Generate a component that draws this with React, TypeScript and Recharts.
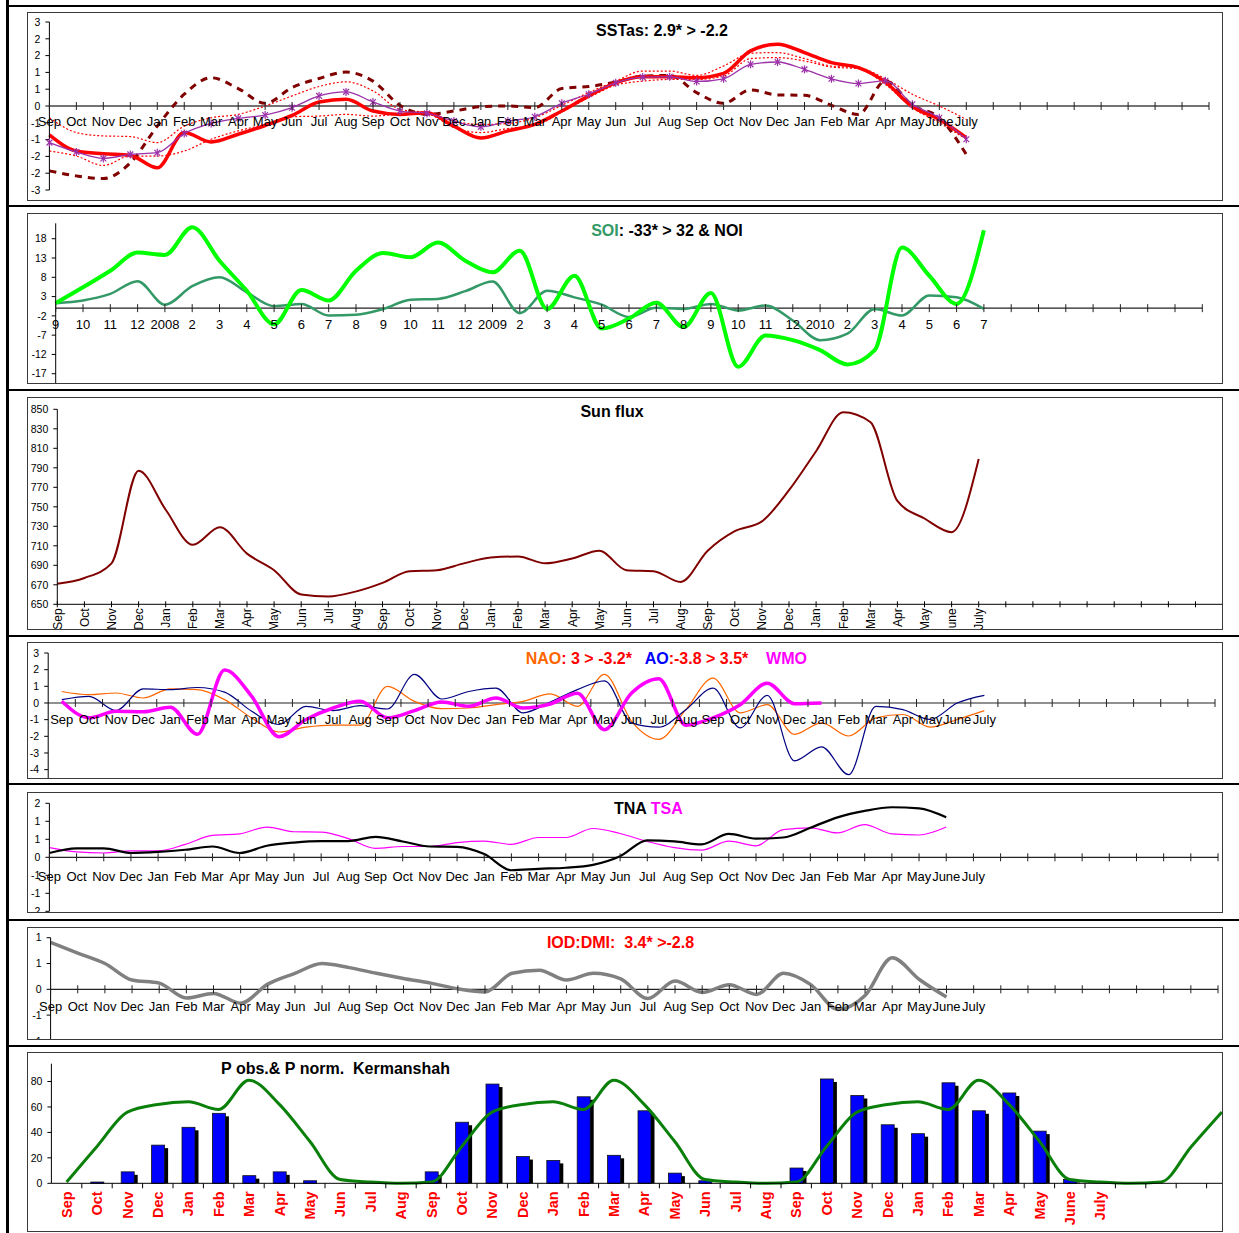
import React from 'react';
import { ComposedChart, LineChart, Line, Bar, XAxis, YAxis, ReferenceLine } from 'recharts';

const FONT = '"Liberation Sans", Arial, Helvetica, sans-serif';
const BOX_X = 27;
const BOX_W = 1196;
const YW = 20;

// ---- category labels ----
const months = ['Sep', 'Oct', 'Nov', 'Dec', 'Jan', 'Feb', 'Mar', 'Apr', 'May', 'Jun', 'Jul', 'Aug',
  'Sep', 'Oct', 'Nov', 'Dec', 'Jan', 'Feb', 'Mar', 'Apr', 'May', 'Jun', 'Jul', 'Aug',
  'Sep', 'Oct', 'Nov', 'Dec', 'Jan', 'Feb', 'Mar', 'Apr', 'May', 'June', 'July'];
const soiLabels = ['9', '10', '11', '12', '2008', '2', '3', '4', '5', '6', '7', '8',
  '9', '10', '11', '12', '2009', '2', '3', '4', '5', '6', '7', '8',
  '9', '10', '11', '12', '2010', '2', '3', '4', '5', '6', '7'];

// ---- SSTas ----
const sstRed = [-0.86, -1.34, -1.42, -1.47, -1.84, -0.79, -1.07, -0.84, -0.58, -0.28, 0.12, 0.2, -0.15, -0.25, -0.2, -0.6, -0.95, -0.74, -0.55, -0.15, 0.3, 0.69, 0.87, 0.87, 0.84, 0.97, 1.64, 1.84, 1.59, 1.29, 1.14, 0.71, -0.02, -0.4, -0.94];
const sstPurple = [-1.09, -1.37, -1.56, -1.44, -1.39, -0.82, -0.52, -0.37, -0.27, -0.05, 0.3, 0.42, 0.12, -0.15, -0.22, -0.45, -0.62, -0.45, -0.32, 0.08, 0.35, 0.69, 0.86, 0.87, 0.73, 0.81, 1.24, 1.31, 1.09, 0.81, 0.67, 0.75, 0.05, -0.35, -0.99];
const sstDash = [-1.93, -2.08, -2.16, -1.69, -0.6, 0.35, 0.84, 0.52, 0.08, 0.55, 0.82, 1.01, 0.74, 0.02, -0.25, -0.15, -0.02, 0, -0.05, 0.52, 0.58, 0.71, 0.89, 0.91, 0.4, 0.08, 0.48, 0.33, 0.32, 0.02, -0.25, 0.75, 0.02, -0.35, -1.44];
const sstDotHi = [-0.35, -0.79, -0.89, -0.91, -1.09, -0.6, -0.35, -0.25, 0, 0.3, 0.58, 0.72, 0.45, -0.1, -0.2, -0.45, -0.55, -0.52, -0.35, 0.02, 0.4, 0.74, 1.04, 1.04, 0.91, 1.19, 1.57, 1.59, 1.41, 1.19, 1.14, 0.81, 0.35, 0, -0.4];
const sstDotLo = [-1.34, -1.49, -1.77, -1.49, -1.49, -1.34, -0.99, -0.74, -0.55, -0.32, -0.3, -0.25, -0.3, -0.25, -0.25, -0.64, -0.79, -0.67, -0.58, -0.18, 0.25, 0.62, 0.74, 0.79, 0.79, 0.89, 1.41, 1.44, 1.34, 1.16, 1.11, 0.64, -0.05, -0.5, -0.99];
const sstTicks = [-2.5, -2, -1.5, -1, -0.5, 0, 0.5, 1, 1.5, 2, 2.5];

// ---- SOI & NOI ----
const noi = [1.3, 5.4, 9.7, 14.4, 13.8, 21.0, 12.3, 4.5, -4.2, 4.7, 2.0, 9.7, 14.3, 13.2, 17.0, 12.3, 9.3, 14.9, -0.2, 8.4, -5.3, -2.7, 1.4, -4.9, 3.9, -15.2, -7.1, -8.3, -10.9, -14.6, -10.9, 15.7, 8.4, 1.1, 20.2];
const soi = [1.3, 2.0, 3.7, 7.0, 0.9, 5.7, 8.0, 4.1, 0.5, 1.1, -1.9, -1.7, -0.2, 2.2, 2.4, 4.4, 6.9, -1.3, 4.5, 2.8, 0.9, -2.3, 0.1, -0.2, 1.1, -0.6, 0.7, -3.2, -8.3, -6.6, -0.2, -1.9, 3.3, 2.8, -0.2];
const soiTicks = [-17, -12, -7, -2, 3, 8, 13, 18];

// ---- Sun flux ----
const sunFlux = [671, 677, 692, 787, 747, 711, 729, 702, 685, 660, 658, 663, 672, 684, 685, 692, 698, 699, 692, 697, 705, 685, 684, 673, 705, 725, 735, 767, 807, 847, 837, 756, 738, 724, 799];
const sunTicks = [650, 670, 690, 710, 730, 750, 770, 790, 810, 830, 850];

// ---- NAO, AO, WMO ----
const nao = [0.69, 0.5, 0.6, 0.3, 0.85, 0.8, 0.2, -0.9, -1.74, -1.45, -1.33, -1.33, 1.0, 0.1, -0.34, -0.3, -0.1, 0.1, 0.55, -0.2, 1.72, -1.1, -2.18, -0.4, 1.49, -0.59, -0.1, -1.88, -1.19, -1.98, -0.89, -0.69, -1.45, -0.99, -0.46];
const ao = [0.2, 0.4, -0.45, 0.85, 0.8, 0.93, 0.65, -0.5, -1.29, -0.2, -0.46, -0.16, -0.36, 1.72, 0.24, 0.69, 0.89, -0.59, 0.06, 0.8, 1.33, -1.19, -1.45, -0.4, 0.89, -1.49, 0.46, -3.47, -2.63, -4.3, -0.2, -0.4, -0.99, 0, 0.46];
const wmo = [0.1, -0.89, -0.5, -0.53, -0.26, -1.88, 1.98, 0.4, -2.02, -0.99, -0.3, 0.1, -0.89, -0.46, 0.06, -0.2, 0.3, -0.3, -0.06, 0.59, -1.6, 0.6, 1.45, -1.33, -0.89, -0.1, 1.19, -0.04, 0];
const naoTicks = [-5, -4, -3, -2, -1, 0, 1, 2, 3];

// ---- TNA, TSA ----
const tna = [0.12, 0.25, 0.25, 0.12, 0.15, 0.21, 0.3, 0.12, 0.32, 0.41, 0.45, 0.45, 0.57, 0.44, 0.3, 0.29, 0.09, -0.36, -0.32, -0.29, -0.21, 0.03, 0.47, 0.44, 0.36, 0.65, 0.52, 0.55, 0.82, 1.11, 1.29, 1.39, 1.36, 1.11];
const tsa = [0.27, 0.15, 0.12, 0.18, 0.18, 0.36, 0.61, 0.65, 0.84, 0.71, 0.7, 0.52, 0.25, 0.3, 0.3, 0.41, 0.45, 0.36, 0.55, 0.55, 0.8, 0.66, 0.44, 0.27, 0.2, 0.45, 0.32, 0.77, 0.82, 0.68, 0.91, 0.65, 0.62, 0.84];
const tnaTicks = [-1.5, -1, -0.5, 0, 0.5, 1, 1.5];

// ---- IOD (DMI) ----
const dmi = [0.91, 0.7, 0.5, 0.18, 0.12, -0.17, -0.08, -0.27, 0.1, 0.31, 0.5, 0.42, 0.31, 0.21, 0.12, 0.01, -0.05, 0.31, 0.37, 0.18, 0.31, 0.2, -0.18, 0.16, -0.06, 0.09, -0.1, 0.31, 0.09, -0.39, -0.12, 0.61, 0.19, -0.15];
const dmiTicks = [-1, -0.5, 0, 0.5, 1];

// ---- Precipitation, Kermanshah ----
const pObs = [0, 1, 9, 30, 44, 55, 6, 9, 2, 0, 0, 0, 9, 48, 78, 21, 18, 68, 22, 57, 8, 2, 0, 0, 12, 82, 69, 46, 39, 79, 57, 71, 41, 3, 0];
const pNorm = [1, 29, 56, 62, 64, 58, 81, 62, 33, 3, 1, 0, 1, 29, 56, 62, 64, 58, 81, 62, 33, 3, 1, 0, 1, 29, 56, 62, 64, 58, 81, 62, 33, 3, 1, 0, 1, 29, 56];
const pTicks = [0, 20, 40, 60, 80];

// one row per category, keyed by its index so the axis never sees duplicates
const rows = (count: number, series: Record<string, number[]>) =>
  Array.from({ length: count }, (_, i) => {
    const r: any = { i };
    for (const k of Object.keys(series)) r[k] = series[k][i] ?? null;
    return r;
  });

const excelRound = (v: number) => String(Math.sign(v) * Math.round(Math.abs(v)));

type Geo = {
  top: number; height: number; chartW?: number; chartH: number;
  plotLeft: number; plotRight: number; plotTop: number; plotBottom: number; xh: number;
};

const marginOf = (g: Geo) => ({
  top: g.plotTop - g.top,
  left: g.plotLeft - BOX_X - YW,
  right: BOX_X + (g.chartW ?? BOX_W) - g.plotRight,
  bottom: g.chartH - (g.plotBottom - g.top) - g.xh,
});

// y of the value 0 inside the chart svg
const zeroY = (g: Geo, min: number, max: number) => g.plotTop - g.top + (g.plotBottom - g.plotTop) * max / (max - min);
const axisY = (g: Geo) => g.plotBottom - g.top;

// x labels under an axis that crosses at zero
const zeroTick = (y0: number, labels: string[], dy: number, fs: number, half = 0) => (props: any) => {
  const { x, index } = props;
  const tx = x + half;
  return (
    <g>
      <line x1={tx} x2={tx} y1={y0 - 4} y2={y0 + 4} stroke="#222" strokeWidth={1} />
      <text x={x} y={y0 + dy} textAnchor="middle" fontSize={fs} fill="#000" fontFamily={FONT}>
        {labels[index] ?? ''}
      </text>
    </g>
  );
};

const rotTick = (y: number, labels: string[], fs: number, color: string, bold: boolean, gap: number, half: number, cross: boolean) => (props: any) => {
  const { x, index } = props;
  const tx = x + half;
  const ly = y + gap;
  return (
    <g>
      <line x1={tx} x2={tx} y1={cross ? y - 3 : y} y2={y + (cross ? 3 : 5)} stroke="#000" strokeWidth={1} />
      <text transform={`rotate(-90 ${x} ${ly})`} x={x} y={ly} dy="0.36em" textAnchor="end"
        fontSize={fs} fontWeight={bold ? 'bold' : 'normal'} fill={color} fontFamily={FONT}>
        {labels[index] ?? ''}
      </text>
    </g>
  );
};

const renderStar = (p: any) => {
  const { cx, cy, index, value } = p;
  if (cx == null || cy == null || value == null) return <g key={`st${index}`} />;
  const r = 4;
  const d = 2.9;
  return (
    <g key={`st${index}`} stroke="#9b30a8" strokeWidth={1.2}>
      <line x1={cx} y1={cy - r} x2={cx} y2={cy + r} />
      <line x1={cx - d} y1={cy - d} x2={cx + d} y2={cy + d} />
      <line x1={cx - d} y1={cy + d} x2={cx + d} y2={cy - d} />
    </g>
  );
};

const ShadowBar = (props: any) => {
  const { x, y, width, height } = props;
  if (!height || height <= 0) return <g />;
  return (
    <g>
      <rect x={x + 3.5} y={y + 3} width={width} height={Math.max(0, height - 3)} fill="#000" />
      <rect x={x} y={y} width={width} height={height} fill="#0000FF" stroke="#111" strokeWidth={0.8} />
    </g>
  );
};

const yTick = { fontSize: 10.5, fill: '#000', fontFamily: FONT };

const Panel = ({ g, children }: { g: Geo; children: React.ReactNode }) => (
  <>
    <div style={{ position: 'absolute', left: BOX_X, top: g.top, width: BOX_W, height: g.height, overflow: 'hidden' }}>
      {children}
    </div>
    <div style={{ position: 'absolute', left: BOX_X, top: g.top, width: BOX_W, height: g.height, boxSizing: 'border-box', border: '1.5px solid #3a3a3a', pointerEvents: 'none' }} />
  </>
);

const Title = ({ x, y, children, align = 'center' }: { x: number; y: number; children: React.ReactNode; align?: string }) => (
  <div style={{
    position: 'absolute', left: x, top: y, transform: align === 'center' ? 'translate(-50%, -50%)' : 'translate(0, -50%)',
    fontFamily: FONT, fontWeight: 'bold', fontSize: 16, lineHeight: '16px', whiteSpace: 'pre', color: '#000',
  }}>{children}</div>
);

const g1: Geo = { top: 12, height: 189, chartH: 189, plotLeft: 49.4, plotRight: 1209, plotTop: 22, plotBottom: 190, xh: 2 };
const g2: Geo = { top: 213, height: 171, chartH: 183, plotLeft: 55.7, plotRight: 1202.3, plotTop: 223.3, plotBottom: 393, xh: 2 };
const g3: Geo = { top: 397, height: 233, chartH: 236, plotLeft: 57.3, plotRight: 1222.6, plotTop: 409.3, plotBottom: 604.3, xh: 28 };
const g4: Geo = { top: 642, height: 137, chartH: 148, plotLeft: 48.2, plotRight: 1215, plotTop: 653, plotBottom: 786.3, xh: 2 };
const g5: Geo = { top: 792, height: 121, chartH: 123, plotLeft: 49.4, plotRight: 1218, plotTop: 803.3, plotBottom: 911.3, xh: 2 };
const g6: Geo = { top: 927, height: 113, chartH: 118, plotLeft: 50.6, plotRight: 1218, plotTop: 937.7, plotBottom: 1040.9, xh: 2 };
const g7: Geo = { top: 1052, height: 180, chartW: 1215, chartH: 182, plotLeft: 51.4, plotRight: 1237, plotTop: 1063.7, plotBottom: 1183.3, xh: 50 };

const sstData = rows(44, { red: sstRed, purple: sstPurple, dash: sstDash, hi: sstDotHi, lo: sstDotLo });
const soiData = rows(43, { soi, noi });
const sunData = rows(44, { sun: sunFlux });
const naoData = rows(43, { nao, ao, wmo });
const tnaData = rows(44, { tna, tsa });
const dmiData = rows(44, { dmi });
const pData = rows(39, { obs: pObs, norm: pNorm });

const hLines = [4.7, 204.7, 388.5, 634.5, 782.5, 918.5, 1044.5];

export default function App() {
  const half4 = (g4.plotRight - g4.plotLeft) / 43 / 2;
  const half7 = (g7.plotRight - g7.plotLeft) / 39 / 2;
  return (
    <div style={{ position: 'absolute', left: 0, top: 0, width: 1239, height: 1233, background: '#fff', fontFamily: FONT, overflow: 'hidden' }}>
      <div style={{ position: 'absolute', left: 6, top: 0, width: 2.6, height: 1233, background: '#000' }} />
      {hLines.map((y) => (
        <div key={y} style={{ position: 'absolute', left: 6, top: y, width: 1233, height: 2.6, background: '#000' }} />
      ))}

      {/* SSTas */}
      <Panel g={g1}>
        <LineChart width={BOX_W} height={g1.chartH} data={sstData} margin={marginOf(g1)}>
          <XAxis dataKey="i" interval={0} height={g1.xh} axisLine={false} tickLine={false}
            tick={zeroTick(zeroY(g1, -2.5, 2.5), months, 20, 13)} />
          <YAxis type="number" domain={[-2.5, 2.5]} ticks={sstTicks} interval={0} width={YW} tickFormatter={excelRound}
            axisLine={{ stroke: '#000' }} tickLine={{ stroke: '#000' }} tickSize={4} tickMargin={5} tick={yTick} />
          <ReferenceLine y={0} stroke="#444" strokeWidth={1.3} />
          <Line dataKey="lo" type="monotone" stroke="#FF0000" strokeWidth={1.2} strokeDasharray="2 2" dot={false} activeDot={false} isAnimationActive={false} />
          <Line dataKey="hi" type="monotone" stroke="#FF0000" strokeWidth={1.2} strokeDasharray="2 2" dot={false} activeDot={false} isAnimationActive={false} />
          <Line dataKey="dash" type="monotone" stroke="#800000" strokeWidth={3} strokeDasharray="7 6" dot={false} activeDot={false} isAnimationActive={false} />
          <Line dataKey="red" type="monotone" stroke="#FF0000" strokeWidth={3.5} dot={false} activeDot={false} isAnimationActive={false} />
          <Line dataKey="purple" type="monotone" stroke="#9b30a8" strokeWidth={1.3} dot={renderStar} activeDot={false} isAnimationActive={false} />
        </LineChart>
      </Panel>
      <Title x={662} y={31}>SSTas: 2.9* &gt; -2.2</Title>

      {/* SOI & NOI */}
      <Panel g={g2}>
        <LineChart width={BOX_W} height={g2.chartH} data={soiData} margin={marginOf(g2)}>
          <XAxis dataKey="i" interval={0} height={g2.xh} axisLine={false} tickLine={false}
            tick={zeroTick(zeroY(g2, -22, 22), soiLabels, 21, 13)} />
          <YAxis type="number" domain={[-22, 22]} ticks={soiTicks} interval={0} width={YW}
            axisLine={{ stroke: '#000' }} tickLine={{ stroke: '#000' }} tickSize={4} tickMargin={5} tick={yTick} />
          <ReferenceLine y={0} stroke="#222" strokeWidth={1.2} />
          <Line dataKey="soi" type="monotone" stroke="#339966" strokeWidth={2.5} dot={false} activeDot={false} isAnimationActive={false} />
          <Line dataKey="noi" type="monotone" stroke="#00FF00" strokeWidth={4} dot={false} activeDot={false} isAnimationActive={false} />
        </LineChart>
      </Panel>
      <Title x={667} y={231}><span style={{ color: '#339966' }}>SOI</span>: -33* &gt; 32 &amp; NOI</Title>

      {/* Sun flux */}
      <Panel g={g3}>
        <LineChart width={BOX_W} height={g3.chartH} data={sunData} margin={marginOf(g3)}>
          <XAxis dataKey="i" interval={0} height={g3.xh} axisLine={{ stroke: '#000' }} tickLine={false}
            tick={rotTick(axisY(g3), months, 12, '#000', false, 4, 0, true)} />
          <YAxis type="number" domain={[650, 850]} ticks={sunTicks} interval={0} width={YW}
            axisLine={{ stroke: '#000' }} tickLine={{ stroke: '#000' }} tickSize={4} tickMargin={5} tick={yTick} />
          <Line dataKey="sun" type="monotone" stroke="#800000" strokeWidth={2} dot={false} activeDot={false} isAnimationActive={false} />
        </LineChart>
      </Panel>
      <Title x={612} y={412}>Sun flux</Title>

      {/* NAO, AO, WMO */}
      <Panel g={g4}>
        <LineChart width={BOX_W} height={g4.chartH} data={naoData} margin={marginOf(g4)}>
          <XAxis dataKey="i" interval={0} height={g4.xh} axisLine={false} tickLine={false}
            padding={{ left: half4, right: half4 }}
            tick={zeroTick(zeroY(g4, -5, 3), months, 21, 13, half4)} />
          <YAxis type="number" domain={[-5, 3]} ticks={naoTicks} interval={0} width={YW}
            axisLine={{ stroke: '#000' }} tickLine={{ stroke: '#000' }} tickSize={4} tickMargin={5} tick={yTick} />
          <ReferenceLine y={0} stroke="#222" strokeWidth={1.2} />
          <Line dataKey="nao" type="monotone" stroke="#FF6600" strokeWidth={1.2} dot={false} activeDot={false} isAnimationActive={false} />
          <Line dataKey="ao" type="monotone" stroke="#000080" strokeWidth={1.2} dot={false} activeDot={false} isAnimationActive={false} />
          <Line dataKey="wmo" type="monotone" stroke="#FF00FF" strokeWidth={3.5} dot={false} activeDot={false} isAnimationActive={false} />
        </LineChart>
      </Panel>
      <Title x={525.7} y={659} align="left">
        <span style={{ color: '#FF6600' }}>NAO</span><span style={{ color: '#FF0000' }}>: 3 &gt; -3.2*</span>
        {'   '}<span style={{ color: '#0000FF' }}>AO</span><span style={{ color: '#FF0000' }}>:-3.8 &gt; 3.5*</span>
        {'    '}<span style={{ color: '#FF00FF' }}>WMO</span>
      </Title>

      {/* TNA, TSA */}
      <Panel g={g5}>
        <LineChart width={BOX_W} height={g5.chartH} data={tnaData} margin={marginOf(g5)}>
          <XAxis dataKey="i" interval={0} height={g5.xh} axisLine={false} tickLine={false}
            tick={zeroTick(zeroY(g5, -1.5, 1.5), months, 24, 13)} />
          <YAxis type="number" domain={[-1.5, 1.5]} ticks={tnaTicks} interval={0} width={YW} tickFormatter={excelRound}
            axisLine={{ stroke: '#000' }} tickLine={{ stroke: '#000' }} tickSize={4} tickMargin={5} tick={yTick} />
          <ReferenceLine y={0} stroke="#222" strokeWidth={1.2} />
          <Line dataKey="tsa" type="monotone" stroke="#FF00FF" strokeWidth={1.2} dot={false} activeDot={false} isAnimationActive={false} />
          <Line dataKey="tna" type="monotone" stroke="#000000" strokeWidth={2.2} dot={false} activeDot={false} isAnimationActive={false} />
        </LineChart>
      </Panel>
      <Title x={614} y={809} align="left">TNA <span style={{ color: '#FF00FF' }}>TSA</span></Title>

      {/* IOD */}
      <Panel g={g6}>
        <LineChart width={BOX_W} height={g6.chartH} data={dmiData} margin={marginOf(g6)}>
          <XAxis dataKey="i" interval={0} height={g6.xh} axisLine={false} tickLine={false}
            tick={zeroTick(zeroY(g6, -1, 1), months, 22, 13)} />
          <YAxis type="number" domain={[-1, 1]} ticks={dmiTicks} interval={0} width={YW} tickFormatter={excelRound}
            axisLine={{ stroke: '#000' }} tickLine={{ stroke: '#000' }} tickSize={4} tickMargin={5} tick={yTick} />
          <ReferenceLine y={0} stroke="#222" strokeWidth={1.2} />
          <Line dataKey="dmi" type="monotone" stroke="#808080" strokeWidth={3.5} dot={false} activeDot={false} isAnimationActive={false} />
        </LineChart>
      </Panel>
      <Title x={620.5} y={942.5}><span style={{ color: '#FF0000' }}>IOD:DMI:  3.4* &gt;-2.8</span></Title>

      {/* Precipitation */}
      <Panel g={g7}>
        <ComposedChart width={g7.chartW} height={g7.chartH} data={pData} margin={marginOf(g7)} barCategoryGap={0}>
          <XAxis dataKey="i" interval={0} height={g7.xh} axisLine={{ stroke: '#000' }} tickLine={false}
            tick={rotTick(axisY(g7), months, 14.5, '#FF0000', true, 8, half7, false)} />
          <YAxis type="number" domain={[0, 94]} ticks={pTicks} interval={0} width={YW}
            axisLine={{ stroke: '#000' }} tickLine={{ stroke: '#000' }} tickSize={4} tickMargin={5} tick={yTick} />
          <Bar dataKey="obs" barSize={13} shape={ShadowBar} isAnimationActive={false} />
          <Line dataKey="norm" type="monotone" stroke="#0a800a" strokeWidth={3} dot={false} activeDot={false} isAnimationActive={false} />
        </ComposedChart>
      </Panel>
      <Title x={335.5} y={1069}>P obs.&amp; P norm.  Kermanshah</Title>
    </div>
  );
}
